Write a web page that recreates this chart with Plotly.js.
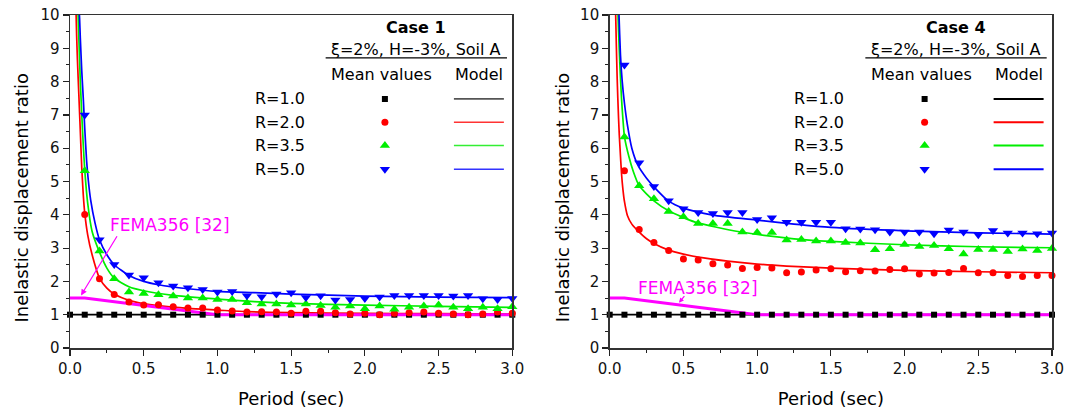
<!DOCTYPE html>
<html><head><meta charset="utf-8">
<script src="https://cdn.plot.ly/plotly-3.0.1.min.js"></script>
<style>html,body{margin:0;padding:0;background:#fff;}</style>
</head><body><div id="chart" style="width:1067px;height:410px;"></div>
<script>
// ---------- DATA ----------
const caseNames = ['Case 1', 'Case 4'];
const subtitle = 'ξ=2%, H=-3%, Soil A';
const rLabels = ['R=1.0', 'R=2.0', 'R=3.5', 'R=5.0'];
const periodsR1 = [0.0,0.1,0.2,0.3,0.4,0.5,0.6,0.7,0.8,0.9,1.0,1.1,1.2,1.3,1.4,1.5,1.6,1.7,1.8,1.9,2.0,2.1,2.2,2.3,2.4,2.5,2.6,2.7,2.8,2.9,3.0];
const periods = [0.1,0.2,0.3,0.4,0.5,0.6,0.7,0.8,0.9,1.0,1.1,1.2,1.3,1.4,1.5,1.6,1.7,1.8,1.9,2.0,2.1,2.2,2.3,2.4,2.5,2.6,2.7,2.8,2.9,3.0];

// Case 1 mean values
const c1R1 = [1,1,1,1,1,1,1,1,1,1,1,1,1,1,1,1,1,1,1,1,1,1,1,1,1,1,1,1,1,1,1];
const c1R2 = [4.01,2.08,1.61,1.38,1.29,1.30,1.24,1.20,1.20,1.14,1.11,1.08,1.09,1.08,1.04,1.10,1.10,1.06,1.02,1.04,1.00,1.04,1.06,1.08,1.04,1.02,1.00,1.02,1.08,1.04];
const c1R35 = [5.32,2.91,2.08,1.68,1.64,1.60,1.56,1.50,1.50,1.46,1.46,1.36,1.32,1.32,1.29,1.32,1.28,1.22,1.26,1.18,1.26,1.16,1.22,1.26,1.29,1.22,1.18,1.22,1.18,1.24];
const c1R5 = [7.00,3.25,2.51,2.19,2.11,1.96,1.86,1.81,1.76,1.68,1.70,1.57,1.54,1.62,1.66,1.52,1.57,1.44,1.46,1.49,1.53,1.58,1.58,1.58,1.58,1.56,1.58,1.48,1.46,1.49];

// Case 4 mean values
const c4R1 = [1,1,1,1,1,1,1,1,1,1,1,1,1,1,1,1,1,1,1,1,1,1,1,1,1,1,1,1,1,1,1];
const c4R2 = [5.32,3.56,3.17,2.93,2.67,2.64,2.53,2.49,2.39,2.42,2.40,2.26,2.28,2.34,2.38,2.29,2.32,2.31,2.36,2.38,2.22,2.25,2.27,2.39,2.26,2.26,2.18,2.15,2.18,2.18];
const c4R35 = [6.34,4.87,4.48,4.10,3.94,3.74,3.74,3.74,3.48,3.47,3.47,3.24,3.26,3.21,3.21,3.17,3.15,2.95,2.98,3.11,3.05,3.08,2.98,2.82,2.96,2.96,2.90,2.97,2.93,2.99];
const c4R5 = [8.50,5.56,4.85,4.42,4.18,4.07,4.04,4.07,4.07,3.86,3.91,3.78,3.78,3.78,3.78,3.58,3.57,3.55,3.48,3.48,3.48,3.43,3.54,3.48,3.40,3.53,3.45,3.45,3.43,3.45];

// Model curves
const mFlatT = [0.0, 3.0];
const mFlatV = [1.0, 1.0];
const c1M2T = [0.038,0.045,0.05,0.06,0.07,0.08,0.09,0.1,0.12,0.15,0.2,0.25,0.3,0.4,0.5,0.6,0.8,1.0,1.2,1.5,2.0,2.5,3.0];
const c1M2V = [10.6,9.4,8.7,7.6,6.5,5.4,4.6,4.05,3.4,2.8,2.1,1.8,1.62,1.43,1.33,1.27,1.19,1.14,1.09,1.06,1.04,1.03,1.02];
const c1M35T = [0.05,0.055,0.06,0.07,0.08,0.09,0.1,0.12,0.15,0.2,0.25,0.3,0.4,0.5,0.7,1.0,1.25,1.5,2.0,2.5,3.0];
const c1M35V = [10.8,10.0,9.3,8.0,7.0,6.1,5.35,4.35,3.5,2.88,2.4,2.1,1.84,1.72,1.58,1.47,1.39,1.34,1.29,1.25,1.22];
const c1M5T = [0.058,0.065,0.07,0.08,0.09,0.1,0.113,0.125,0.14,0.17,0.2,0.25,0.3,0.4,0.5,0.6,0.8,1.0,1.25,1.5,2.0,2.5,3.0];
const c1M5V = [10.5,9.9,9.3,8.3,7.5,6.6,5.6,5.0,4.45,3.75,3.25,2.8,2.5,2.18,2.0,1.9,1.78,1.70,1.66,1.62,1.56,1.53,1.51];
const c4M2T = [0.038,0.045,0.05,0.055,0.06,0.065,0.07,0.08,0.09,0.1,0.12,0.15,0.2,0.25,0.3,0.4,0.5,0.6,0.8,1.0,1.2,1.5,2.0,2.5,3.0];
const c4M2V = [10.5,9.1,8.2,7.5,6.9,6.4,6.0,5.25,4.75,4.4,3.98,3.72,3.48,3.28,3.14,2.94,2.82,2.73,2.61,2.52,2.46,2.40,2.33,2.29,2.26];
const c4M35T = [0.052,0.06,0.07,0.08,0.09,0.1,0.13,0.16,0.2,0.3,0.4,0.58,0.88,1.25,1.5,2.0,2.5,3.0];
const c4M35V = [10.6,9.5,8.4,7.5,6.85,6.35,5.75,5.3,4.87,4.42,4.12,3.78,3.49,3.28,3.2,3.1,3.04,3.01];
const c4M5T = [0.058,0.063,0.073,0.085,0.1,0.12,0.15,0.19,0.25,0.3,0.4,0.5,0.7,1.0,1.25,1.5,2.0,2.5,3.0];
const c4M5V = [10.6,10.0,8.8,8.0,7.35,6.7,6.0,5.5,5.1,4.84,4.41,4.2,3.99,3.84,3.72,3.62,3.52,3.46,3.42];

// FEMA356 curve
const femaT = [0.0, 0.1, 1.0, 3.0];
const femaV = [1.5, 1.5, 1.0, 1.0];
const femaLabel = 'FEMA356 [32]';

// ---------- STYLE ----------
const FONT = 'DejaVu Sans, Arial, sans-serif';
const colors = ['#000000', '#ff0000', '#00ee00', '#0000ff'];
const legendLineColorsL = ['#555555', '#ff3333', '#33ee33', '#3333ff'];
const symbols = ['square', 'circle', 'triangle-up', 'triangle-down'];
const msizes = [6, 7, 9, 9];
const MAGENTA = '#ff00ff';

const traces = [];
function addPanel(ax, ay, modelT, modelV, meanX, meanV) {
  for (let i = 0; i < 4; i++) {
    traces.push({x: modelT[i], y: modelV[i], xaxis: ax, yaxis: ay, mode: 'lines',
      line: {color: colors[i], width: 1.7, shape: i === 0 ? 'linear' : 'spline', smoothing: 0.6},
      hoverinfo: 'skip'});
  }
  traces.push({x: femaT, y: femaV, xaxis: ax, yaxis: ay, mode: 'lines',
    line: {color: MAGENTA, width: 3}, hoverinfo: 'skip'});
  for (let i = 0; i < 4; i++) {
    traces.push({x: meanX[i], y: meanV[i], xaxis: ax, yaxis: ay, mode: 'markers', cliponaxis: false,
      marker: {symbol: symbols[i], size: msizes[i], color: colors[i], line: {width: 0}}});
  }
}
addPanel('x', 'y', [mFlatT, c1M2T, c1M35T, c1M5T], [mFlatV, c1M2V, c1M35V, c1M5V],
  [periodsR1, periods, periods, periods], [c1R1, c1R2, c1R35, c1R5]);
addPanel('x2', 'y2', [mFlatT, c4M2T, c4M35T, c4M5T], [mFlatV, c4M2V, c4M35V, c4M5V],
  [periodsR1, periods, periods, periods], [c4R1, c4R2, c4R35, c4R5]);

// legend positions (fractions of each panel)
const LEG = {markX: 0.712, lineX0: 0.868, lineX1: 0.981, labelX: 0.474,
  rowY: [0.748, 0.678, 0.608, 0.537], caseY: 0.962, subY: 0.895, underY: 0.871,
  headY: 0.820, meanX: 0.704, modelX: 0.925, centerX: 0.7826, underX0: 0.578, underX1: 0.988};

// legend glyph traces on overlay axes (range 0..1)
[['x3', 'y3'], ['x4', 'y4']].forEach(function (p) {
  for (let i = 0; i < 4; i++) {
    traces.push({x: [LEG.markX], y: [LEG.rowY[i]], xaxis: p[0], yaxis: p[1], mode: 'markers',
      marker: {symbol: symbols[i], size: msizes[i], color: colors[i], line: {width: 0}}, hoverinfo: 'skip'});
  }
});

const annotations = [];
const shapes = [];
[['x', 'y', 0], ['x2', 'y2', 1]].forEach(function (p) {
  const xr = p[0] + ' domain', yr = p[1] + ' domain', k = p[2];
  const base = {xref: xr, yref: yr, showarrow: false, yanchor: 'middle'};
  annotations.push(Object.assign({}, base, {x: LEG.centerX, y: LEG.caseY, xanchor: 'center',
    text: '<b>' + caseNames[k] + '</b>', font: {family: FONT, size: 16, color: '#000'}}));
  annotations.push(Object.assign({}, base, {x: LEG.centerX, y: LEG.subY, xanchor: 'center',
    text: subtitle, font: {family: FONT, size: 16, color: '#000'}}));
  annotations.push(Object.assign({}, base, {x: LEG.meanX, y: LEG.headY, xanchor: 'center',
    text: 'Mean values', font: {family: FONT, size: 16, color: '#000'}}));
  annotations.push(Object.assign({}, base, {x: LEG.modelX, y: LEG.headY, xanchor: 'center',
    text: 'Model', font: {family: FONT, size: 16, color: '#000'}}));
  shapes.push({type: 'line', xref: xr, yref: yr, x0: LEG.underX0, x1: LEG.underX1, y0: LEG.underY, y1: LEG.underY,
    line: {color: '#000', width: 1.2}});
  for (let i = 0; i < 4; i++) {
    annotations.push(Object.assign({}, base, {x: LEG.labelX, y: LEG.rowY[i], xanchor: 'center',
      text: rLabels[i], font: {family: FONT, size: 16, color: '#000'}}));
    shapes.push({type: 'line', xref: xr, yref: yr, x0: LEG.lineX0, x1: LEG.lineX1, y0: LEG.rowY[i], y1: LEG.rowY[i],
      line: {color: k === 0 ? legendLineColorsL[i] : colors[i], width: k === 0 ? 1.6 : 2}});
  }
});

// FEMA labels and arrows
annotations.push({xref: 'x', yref: 'y', x: 0.68, y: 3.7, text: femaLabel, showarrow: false,
  font: {family: FONT, size: 17, color: MAGENTA}, xanchor: 'center', yanchor: 'middle'});
annotations.push({xref: 'x', yref: 'y', axref: 'x', ayref: 'y', x: 0.075, y: 1.58, ax: 0.325, ay: 3.4, text: '',
  showarrow: true, arrowhead: 2, arrowsize: 1, arrowwidth: 1.2, arrowcolor: MAGENTA});
annotations.push({xref: 'x2', yref: 'y2', x: 0.6, y: 1.8, text: femaLabel, showarrow: false,
  font: {family: FONT, size: 17, color: MAGENTA}, xanchor: 'center', yanchor: 'middle'});
annotations.push({xref: 'x2', yref: 'y2', axref: 'x2', ayref: 'y2', x: 0.47, y: 1.36, ax: 0.515, ay: 1.6, text: '',
  showarrow: true, arrowhead: 2, arrowsize: 0.8, arrowwidth: 1.2, arrowcolor: MAGENTA});

// y axis titles
[-0.0489, 0.5018].forEach(function (xp) {
  annotations.push({xref: 'paper', yref: 'paper', x: xp, y: 0.452, textangle: -90, showarrow: false,
    text: 'Inelastic displacement ratio', font: {family: FONT, size: 18, color: '#000'},
    xanchor: 'center', yanchor: 'middle'});
});

function xAx(domain, anchor) {
  return {domain: domain, anchor: anchor, range: [0, 3], dtick: 0.5, tick0: 0, tickformat: '.1f',
    ticks: 'outside', ticklen: 6, tickwidth: 1.2, tickcolor: '#222',
    minor: {dtick: 0.25, ticks: 'outside', ticklen: 3, tickcolor: '#222', tickwidth: 1},
    showline: true, linecolor: '#333', linewidth: 1.5, mirror: true, showgrid: false, zeroline: false,
    tickfont: {family: FONT, size: 15, color: '#111'}, automargin: false, fixedrange: true,
    title: {text: 'Period (sec)', font: {family: FONT, size: 18, color: '#000'}, standoff: 16}};
}
function yAx(anchor) {
  return {domain: [0, 1], anchor: anchor, range: [0, 10], dtick: 1, tick0: 0,
    ticks: 'outside', ticklen: 6, tickwidth: 1.2, tickcolor: '#222',
    minor: {dtick: 0.5, ticks: 'outside', ticklen: 3, tickcolor: '#222', tickwidth: 1},
    showline: true, linecolor: '#333', linewidth: 1.5, mirror: true, showgrid: false, zeroline: false,
    tickfont: {family: FONT, size: 15, color: '#111'}, automargin: false, fixedrange: true};
}
const LDOM = [0, 0.4504], RDOM = [0.5496, 1];
const hid = {visible: false, range: [0, 1], fixedrange: true, showgrid: false, zeroline: false};
const layout = {
  width: 1067, height: 410, margin: {l: 70, r: 14.5, t: 14.5, b: 61.5},
  paper_bgcolor: '#fff', plot_bgcolor: '#fff', showlegend: false,
  font: {family: FONT, size: 15, color: '#000'},
  xaxis: xAx(LDOM, 'y'), yaxis: yAx('x'),
  xaxis2: xAx(RDOM, 'y2'), yaxis2: yAx('x2'),
  xaxis3: Object.assign({}, hid, {overlaying: 'x', anchor: 'y3'}),
  yaxis3: Object.assign({}, hid, {overlaying: 'y', anchor: 'x3'}),
  xaxis4: Object.assign({}, hid, {overlaying: 'x2', anchor: 'y4'}),
  yaxis4: Object.assign({}, hid, {overlaying: 'y2', anchor: 'x4'}),
  annotations: annotations, shapes: shapes
};
Plotly.newPlot('chart', traces, layout, {staticPlot: true, displayModeBar: false});
</script></body></html>
